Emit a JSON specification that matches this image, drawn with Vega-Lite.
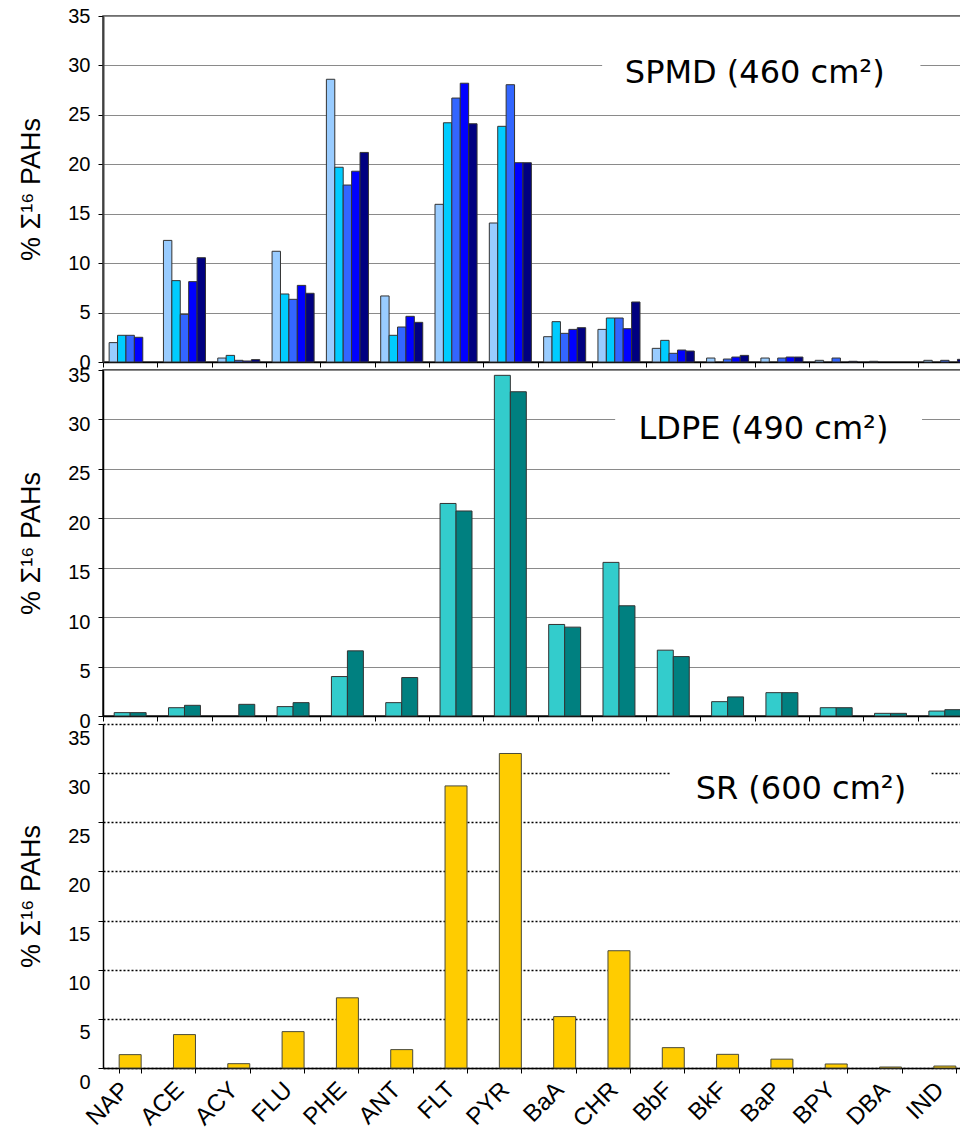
{
  "$schema": "https://vega.github.io/schema/vega-lite/v6.json",
  "background": "white",
  "padding": {"left": 17, "top": 5, "right": 0, "bottom": 0},
  "config": {
    "font": "Liberation Sans",
    "axis": {
      "labelFont": "Liberation Sans", "labelFontSize": 20, "labelColor": "#000000",
      "titleFont": "Liberation Sans", "titleFontSize": 27, "titleFontWeight": "normal", "titleColor": "#000000",
      "domainColor": "#000000", "tickColor": "#000000"
    },
    "axisY": {"tickSize": 5, "labelPadding": 8, "titlePadding": 22, "domainWidth": 1.5},
    "axisX": {"tickSize": 5, "tickBand": "extent", "domainWidth": 1.5, "grid": false},
    "bar": {"stroke": "#333333", "strokeWidth": 1}
  },
  "datasets": {
    "spmd": [
      {"pah": "NAP", "sampler": "S1", "pct": 1.96}, {"pah": "NAP", "sampler": "S2", "pct": 2.7}, {"pah": "NAP", "sampler": "S3", "pct": 2.7}, {"pah": "NAP", "sampler": "S4", "pct": 2.5},
      {"pah": "ACE", "sampler": "S1", "pct": 12.3}, {"pah": "ACE", "sampler": "S2", "pct": 8.23}, {"pah": "ACE", "sampler": "S3", "pct": 4.82}, {"pah": "ACE", "sampler": "S4", "pct": 8.13}, {"pah": "ACE", "sampler": "S5", "pct": 10.55},
      {"pah": "ACY", "sampler": "S1", "pct": 0.4}, {"pah": "ACY", "sampler": "S2", "pct": 0.67}, {"pah": "ACY", "sampler": "S3", "pct": 0.17}, {"pah": "ACY", "sampler": "S4", "pct": 0.1}, {"pah": "ACY", "sampler": "S5", "pct": 0.24},
      {"pah": "FLU", "sampler": "S1", "pct": 11.2}, {"pah": "FLU", "sampler": "S2", "pct": 6.88}, {"pah": "FLU", "sampler": "S3", "pct": 6.34}, {"pah": "FLU", "sampler": "S4", "pct": 7.75}, {"pah": "FLU", "sampler": "S5", "pct": 6.95},
      {"pah": "PHE", "sampler": "S1", "pct": 28.6}, {"pah": "PHE", "sampler": "S2", "pct": 19.7}, {"pah": "PHE", "sampler": "S3", "pct": 17.9}, {"pah": "PHE", "sampler": "S4", "pct": 19.3}, {"pah": "PHE", "sampler": "S5", "pct": 21.2},
      {"pah": "ANT", "sampler": "S1", "pct": 6.68}, {"pah": "ANT", "sampler": "S2", "pct": 2.7}, {"pah": "ANT", "sampler": "S3", "pct": 3.54}, {"pah": "ANT", "sampler": "S4", "pct": 4.62}, {"pah": "ANT", "sampler": "S5", "pct": 4.01},
      {"pah": "FLT", "sampler": "S1", "pct": 15.95}, {"pah": "FLT", "sampler": "S2", "pct": 24.2}, {"pah": "FLT", "sampler": "S3", "pct": 26.7}, {"pah": "FLT", "sampler": "S4", "pct": 28.2}, {"pah": "FLT", "sampler": "S5", "pct": 24.1},
      {"pah": "PYR", "sampler": "S1", "pct": 14.06}, {"pah": "PYR", "sampler": "S2", "pct": 23.84}, {"pah": "PYR", "sampler": "S3", "pct": 28.05}, {"pah": "PYR", "sampler": "S4", "pct": 20.16}, {"pah": "PYR", "sampler": "S5", "pct": 20.16},
      {"pah": "BaA", "sampler": "S1", "pct": 2.56}, {"pah": "BaA", "sampler": "S2", "pct": 4.08}, {"pah": "BaA", "sampler": "S3", "pct": 2.9}, {"pah": "BaA", "sampler": "S4", "pct": 3.3}, {"pah": "BaA", "sampler": "S5", "pct": 3.47},
      {"pah": "CHR", "sampler": "S1", "pct": 3.3}, {"pah": "CHR", "sampler": "S2", "pct": 4.45}, {"pah": "CHR", "sampler": "S3", "pct": 4.45}, {"pah": "CHR", "sampler": "S4", "pct": 3.37}, {"pah": "CHR", "sampler": "S5", "pct": 6.07},
      {"pah": "BbF", "sampler": "S1", "pct": 1.38}, {"pah": "BbF", "sampler": "S2", "pct": 2.19}, {"pah": "BbF", "sampler": "S3", "pct": 0.88}, {"pah": "BbF", "sampler": "S4", "pct": 1.21}, {"pah": "BbF", "sampler": "S5", "pct": 1.11},
      {"pah": "BkF", "sampler": "S1", "pct": 0.4}, {"pah": "BkF", "sampler": "S3", "pct": 0.3}, {"pah": "BkF", "sampler": "S4", "pct": 0.5}, {"pah": "BkF", "sampler": "S5", "pct": 0.67},
      {"pah": "BaP", "sampler": "S1", "pct": 0.4}, {"pah": "BaP", "sampler": "S3", "pct": 0.4}, {"pah": "BaP", "sampler": "S4", "pct": 0.5}, {"pah": "BaP", "sampler": "S5", "pct": 0.5},
      {"pah": "BPY", "sampler": "S1", "pct": 0.17}, {"pah": "BPY", "sampler": "S3", "pct": 0.4}, {"pah": "BPY", "sampler": "S5", "pct": 0.07},
      {"pah": "DBA", "sampler": "S1", "pct": 0.07},
      {"pah": "IND", "sampler": "S1", "pct": 0.17}, {"pah": "IND", "sampler": "S3", "pct": 0.17}, {"pah": "IND", "sampler": "S5", "pct": 0.27}
    ],
    "ldpe": [
      {"pah": "NAP", "sampler": "L1", "pct": 0.34}, {"pah": "NAP", "sampler": "L2", "pct": 0.34},
      {"pah": "ACE", "sampler": "L1", "pct": 0.84}, {"pah": "ACE", "sampler": "L2", "pct": 1.08},
      {"pah": "ACY", "sampler": "L2", "pct": 1.18},
      {"pah": "FLU", "sampler": "L1", "pct": 0.95}, {"pah": "FLU", "sampler": "L2", "pct": 1.35},
      {"pah": "PHE", "sampler": "L1", "pct": 3.99}, {"pah": "PHE", "sampler": "L2", "pct": 6.59},
      {"pah": "ANT", "sampler": "L1", "pct": 1.35}, {"pah": "ANT", "sampler": "L2", "pct": 3.89},
      {"pah": "FLT", "sampler": "L1", "pct": 21.5}, {"pah": "FLT", "sampler": "L2", "pct": 20.74},
      {"pah": "PYR", "sampler": "L1", "pct": 34.46}, {"pah": "PYR", "sampler": "L2", "pct": 32.8},
      {"pah": "BaA", "sampler": "L1", "pct": 9.26}, {"pah": "BaA", "sampler": "L2", "pct": 8.99},
      {"pah": "CHR", "sampler": "L1", "pct": 15.54}, {"pah": "CHR", "sampler": "L2", "pct": 11.15},
      {"pah": "BbF", "sampler": "L1", "pct": 6.66}, {"pah": "BbF", "sampler": "L2", "pct": 6.01},
      {"pah": "BkF", "sampler": "L1", "pct": 1.45}, {"pah": "BkF", "sampler": "L2", "pct": 1.93},
      {"pah": "BaP", "sampler": "L1", "pct": 2.36}, {"pah": "BaP", "sampler": "L2", "pct": 2.36},
      {"pah": "BPY", "sampler": "L1", "pct": 0.84}, {"pah": "BPY", "sampler": "L2", "pct": 0.84},
      {"pah": "DBA", "sampler": "L1", "pct": 0.27}, {"pah": "DBA", "sampler": "L2", "pct": 0.27},
      {"pah": "IND", "sampler": "L1", "pct": 0.5}, {"pah": "IND", "sampler": "L2", "pct": 0.64}
    ],
    "sr": [
      {"pah": "NAP", "pct": 1.36}, {"pah": "ACE", "pct": 3.4}, {"pah": "ACY", "pct": 0.44}, {"pah": "FLU", "pct": 3.7},
      {"pah": "PHE", "pct": 7.14}, {"pah": "ANT", "pct": 1.87}, {"pah": "FLT", "pct": 28.7}, {"pah": "PYR", "pct": 32.0},
      {"pah": "BaA", "pct": 5.23}, {"pah": "CHR", "pct": 11.93}, {"pah": "BbF", "pct": 2.07}, {"pah": "BkF", "pct": 1.39},
      {"pah": "BaP", "pct": 0.9}, {"pah": "BPY", "pct": 0.41}, {"pah": "DBA", "pct": 0.1}, {"pah": "IND", "pct": 0.2}
    ]
  },
  "spacing": 8,
  "bounds": "flush",
  "resolve": {"scale": {"color": "independent", "xOffset": "independent", "x": "independent", "y": "independent"}},
  "vconcat": [
    {
      "width": 869, "height": 346,
      "view": {"stroke": "#404040", "strokeWidth": 1.5},
      "resolve": {"scale": {"x": "independent"}},
      "layer": [
        {
          "data": {"name": "spmd"},
          "mark": {"type": "bar"},
          "encoding": {
            "x": {"field": "pah", "type": "nominal",
              "sort": ["NAP","ACE","ACY","FLU","PHE","ANT","FLT","PYR","BaA","CHR","BbF","BkF","BaP","BPY","DBA","IND"],
              "scale": {"domain": ["NAP","ACE","ACY","FLU","PHE","ANT","FLT","PYR","BaA","CHR","BbF","BkF","BaP","BPY","DBA","IND"], "paddingInner": 0, "paddingOuter": 0},
              "axis": {"labels": false, "title": null}},
            "xOffset": {"field": "sampler", "type": "nominal", "scale": {"domain": ["S1","S2","S3","S4","S5"], "paddingInner": 0, "paddingOuter": 0.73}},
            "y": {"field": "pct", "type": "quantitative", "scale": {"domain": [0, 35], "nice": false},
              "axis": {"values": [0,5,10,15,20,25,30,35], "title": "% Σ¹⁶ PAHs", "grid": true, "gridColor": "#8a8a8a", "gridWidth": 1, "domainColor": "#404040", "domainWidth": 2}},
            "color": {"field": "sampler", "type": "nominal", "scale": {"domain": ["S1","S2","S3","S4","S5"], "range": ["#99CCFF","#00CCFF","#3366FF","#0000FF","#000080"]}, "legend": null}
          }
        },
        {
          "data": {"values": [{}]},
          "mark": {"type": "rect", "color": "white", "strokeWidth": 0},
          "encoding": {
            "x": {"datum": 9.19, "type": "quantitative", "scale": {"domain": [0, 16], "nice": false, "zero": false}, "axis": null},
            "x2": {"datum": 15.05},
            "y": {"datum": 28.5, "type": "quantitative", "title": "% Σ¹⁶ PAHs"},
            "y2": {"datum": 31.5}
          }
        },
        {
          "data": {"values": [{}]},
          "mark": {"type": "text", "text": "SPMD (460 cm²)", "font": "DejaVu Sans", "fontSize": 32, "align": "center", "baseline": "alphabetic", "color": "#000000"},
          "encoding": {
            "x": {"datum": 12.0, "type": "quantitative", "scale": {"domain": [0, 16], "nice": false, "zero": false}, "axis": null},
            "y": {"datum": 28.22, "type": "quantitative", "title": "% Σ¹⁶ PAHs"}
          }
        }
      ]
    },
    {
      "width": 869, "height": 346,
      "view": {"stroke": "#222222", "strokeWidth": 1.5},
      "resolve": {"scale": {"x": "independent"}},
      "layer": [
        {
          "data": {"name": "ldpe"},
          "mark": {"type": "bar"},
          "encoding": {
            "x": {"field": "pah", "type": "nominal",
              "sort": ["NAP","ACE","ACY","FLU","PHE","ANT","FLT","PYR","BaA","CHR","BbF","BkF","BaP","BPY","DBA","IND"],
              "scale": {"domain": ["NAP","ACE","ACY","FLU","PHE","ANT","FLT","PYR","BaA","CHR","BbF","BkF","BaP","BPY","DBA","IND"], "paddingInner": 0, "paddingOuter": 0},
              "axis": {"labels": false, "title": null}},
            "xOffset": {"field": "sampler", "type": "nominal", "scale": {"domain": ["L1","L2"], "paddingInner": 0, "paddingOuter": 0.7}},
            "y": {"field": "pct", "type": "quantitative", "scale": {"domain": [0, 35], "nice": false},
              "axis": {"values": [0,5,10,15,20,25,30,35], "title": "% Σ¹⁶ PAHs", "grid": true, "gridColor": "#8a8a8a", "gridWidth": 1, "labelOffset": 5}},
            "color": {"field": "sampler", "type": "nominal", "scale": {"domain": ["L1","L2"], "range": ["#33CCCC","#008080"]}, "legend": null}
          }
        },
        {
          "data": {"values": [{}]},
          "mark": {"type": "rect", "color": "white", "strokeWidth": 0},
          "encoding": {
            "x": {"datum": 9.43, "type": "quantitative", "scale": {"domain": [0, 16], "nice": false, "zero": false}, "axis": null},
            "x2": {"datum": 15.08},
            "y": {"datum": 28.5, "type": "quantitative", "title": "% Σ¹⁶ PAHs"},
            "y2": {"datum": 31.5}
          }
        },
        {
          "data": {"values": [{}]},
          "mark": {"type": "text", "text": "LDPE (490 cm²)", "font": "DejaVu Sans", "fontSize": 32, "align": "center", "baseline": "alphabetic", "color": "#000000"},
          "encoding": {
            "x": {"datum": 12.16, "type": "quantitative", "scale": {"domain": [0, 16], "nice": false, "zero": false}, "axis": null},
            "y": {"datum": 28.03, "type": "quantitative", "title": "% Σ¹⁶ PAHs"}
          }
        }
      ]
    },
    {
      "width": 869, "height": 344,
      "view": {"stroke": null},
      "resolve": {"scale": {"x": "independent"}},
      "layer": [
        {
          "data": {"name": "sr"},
          "mark": {"type": "bar", "fill": "#FFCC00", "stroke": "#4a4a3a"},
          "encoding": {
            "x": {"field": "pah", "type": "nominal",
              "sort": ["NAP","ACE","ACY","FLU","PHE","ANT","FLT","PYR","BaA","CHR","BbF","BkF","BaP","BPY","DBA","IND"],
              "scale": {"domain": ["NAP","ACE","ACY","FLU","PHE","ANT","FLT","PYR","BaA","CHR","BbF","BkF","BaP","BPY","DBA","IND"], "paddingInner": 0.595, "paddingOuter": 0.2975},
              "axis": {"title": null, "labelAngle": -45, "labelAlign": "right", "labelBaseline": "alphabetic", "labelFontSize": 24, "labelPadding": 18}},
            "y": {"field": "pct", "type": "quantitative", "scale": {"domain": [0, 35], "nice": false},
              "axis": {"values": [0,5,10,15,20,25,30,35], "title": "% Σ¹⁶ PAHs", "grid": true, "gridColor": "#000000", "gridWidth": 1.5, "gridDash": [2, 2], "labelOffset": 14}}
          }
        },
        {
          "data": {"values": [{}]},
          "mark": {"type": "rect", "color": "white", "strokeWidth": 0},
          "encoding": {
            "x": {"datum": 10.44, "type": "quantitative", "scale": {"domain": [0, 16], "nice": false, "zero": false}, "axis": null},
            "x2": {"datum": 15.25},
            "y": {"datum": 28.5, "type": "quantitative", "title": "% Σ¹⁶ PAHs"},
            "y2": {"datum": 31.5}
          }
        },
        {
          "data": {"values": [{}]},
          "mark": {"type": "text", "text": "SR (600 cm²)", "font": "DejaVu Sans", "fontSize": 32, "align": "center", "baseline": "alphabetic", "color": "#000000"},
          "encoding": {
            "x": {"datum": 12.85, "type": "quantitative", "scale": {"domain": [0, 16], "nice": false, "zero": false}, "axis": null},
            "y": {"datum": 27.37, "type": "quantitative", "title": "% Σ¹⁶ PAHs"}
          }
        }
      ]
    }
  ]
}
